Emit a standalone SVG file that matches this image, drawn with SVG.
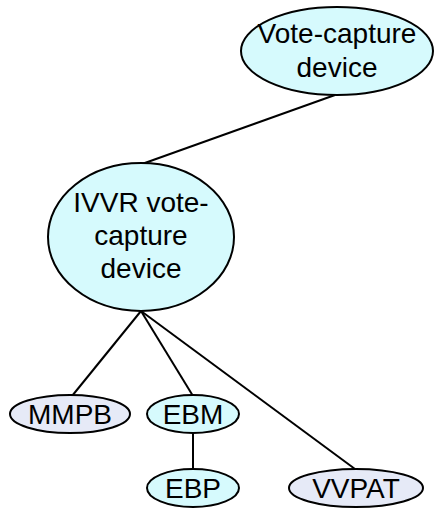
<svg xmlns="http://www.w3.org/2000/svg" width="435" height="510" viewBox="0 0 435 510">
<style>
.n{stroke:#000;stroke-width:2}
.c{fill:#d6fafd}
.l{fill:#e6eaf7}
text{font-family:"Liberation Sans",Arial,sans-serif;font-size:28px;fill:#000;text-anchor:middle}
.e{stroke:#000;stroke-width:2;fill:none}
</style>
<rect width="435" height="510" fill="#fff"/>
<g id="connectors">
<line class="e" x1="335" y1="95" x2="142" y2="164"/>
<line class="e" x1="141" y1="311" x2="72" y2="396"/>
<line class="e" x1="141" y1="311" x2="193" y2="396"/>
<line class="e" x1="141" y1="311" x2="355" y2="469"/>
<line class="e" x1="193" y1="433" x2="193" y2="469"/>
</g>
<g id="vote-capture-device">
<ellipse class="n c" cx="337" cy="51" rx="96" ry="44"/>
<text x="337" y="43">Vote-capture</text>
<text x="337" y="77">device</text>
</g>
<g id="ivvr">
<ellipse class="n c" cx="141" cy="237" rx="93" ry="74"/>
<text x="141" y="212">IVVR vote-</text>
<text x="141" y="245">capture</text>
<text x="141" y="278">device</text>
</g>
<g id="mmpb">
<ellipse class="n l" cx="70" cy="414" rx="60" ry="19"/>
<text x="70" y="424">MMPB</text>
</g>
<g id="ebm">
<ellipse class="n c" cx="193" cy="414" rx="46" ry="19"/>
<text x="193" y="424">EBM</text>
</g>
<g id="ebp">
<ellipse class="n c" cx="193" cy="488" rx="46" ry="19"/>
<text x="193" y="498">EBP</text>
</g>
<g id="vvpat">
<ellipse class="n l" cx="356" cy="488" rx="67" ry="19"/>
<text x="356" y="498">VVPAT</text>
</g>
</svg>
